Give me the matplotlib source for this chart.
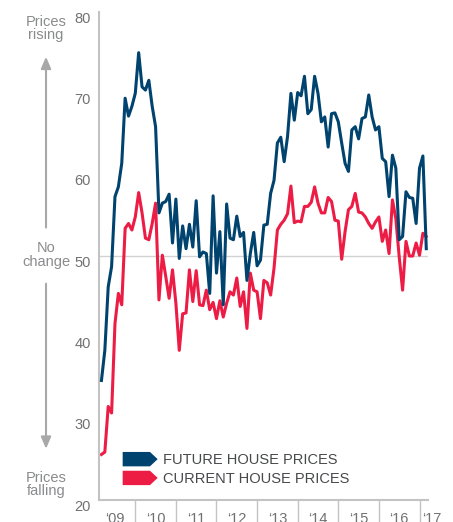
import matplotlib
matplotlib.use("Agg")
import matplotlib.pyplot as plt
import numpy as np
import pandas as pd
from matplotlib.patches import Patch, Polygon
from matplotlib.legend_handler import HandlerPatch
from matplotlib.transforms import ScaledTranslation

plt.rcParams['font.family'] = ['Liberation Sans', 'DejaVu Sans']

# monthly survey balances, Mar 2009 - Mar 2017
months = pd.date_range('2009-03-01', periods=97, freq='MS')

future_prices = [
    34.7, 38.4, 46.2, 48.7, 57.3, 58.5, 61.4, 69.4, 67.2, 68.4,
    70.0, 75.0, 70.8, 70.4, 71.6, 68.4, 65.9, 55.3, 56.5, 56.7,
    57.6, 51.6, 57.0, 49.7, 53.7, 50.9, 53.9, 51.1, 56.8, 49.9,
    50.5, 50.3, 45.4, 57.4, 47.9, 53.0, 44.0, 56.4, 52.2, 52.0,
    54.9, 52.4, 52.9, 47.0, 50.3, 52.9, 48.8, 49.5, 53.8, 53.9,
    57.7, 59.3, 63.9, 64.6, 61.6, 64.7, 70.0, 66.7, 70.1, 69.7,
    72.1, 67.5, 68.0, 72.1, 70.0, 66.5, 67.1, 63.4, 67.5, 67.6,
    66.5, 63.9, 61.4, 60.4, 65.5, 65.9, 64.4, 66.9, 67.1, 69.8,
    67.1, 65.5, 65.9, 62.0, 61.6, 57.3, 62.4, 60.8, 52.0, 52.4,
    57.9, 57.2, 57.1, 54.0, 60.8, 62.3, 50.9,
]

current_prices = [
    25.6, 25.9, 31.5, 30.7, 41.7, 45.4, 44.0, 53.4, 54.0, 53.2,
    54.8, 57.8, 55.3, 52.2, 52.0, 54.0, 56.5, 44.6, 50.1, 47.5,
    44.8, 48.3, 44.2, 38.4, 42.9, 43.0, 48.3, 44.4, 48.2, 44.0,
    43.9, 45.8, 43.4, 44.3, 42.3, 44.5, 42.5, 44.2, 45.6, 45.2,
    47.3, 43.8, 45.6, 41.1, 47.9, 45.8, 45.6, 42.3, 47.0, 46.7,
    45.2, 48.5, 53.2, 53.9, 54.4, 55.2, 58.6, 54.1, 54.3, 54.2,
    56.1, 56.1, 56.6, 58.5, 56.5, 55.3, 55.3, 57.2, 56.7, 54.4,
    54.3, 49.6, 53.0, 55.7, 56.1, 57.7, 55.4, 55.3, 54.8, 54.0,
    53.4, 54.2, 54.8, 51.8, 53.2, 50.3, 56.9, 54.6, 49.9, 45.8,
    51.8, 50.0, 50.0, 51.6, 50.1, 52.8, 52.4,
]

year_ticks = list(range(2010, 2018))
year_labels = ['\u201809', '\u201810', '\u201811', '\u201812', '\u201813',
               '\u201814', '\u201815', '\u201816', '\u201817']
year_label_pos = [2009.5, 2010.5, 2011.5, 2012.5, 2013.5, 2014.5, 2015.5, 2016.5, 2017.3]

BLUE = '#00436f'
RED = '#ec1c45'
AXIS = '#c3c3c3'
TXT = '#707173'

t = months.year + (months.month - 1) / 12.0


class HandlerArrow(HandlerPatch):
    def create_artists(self, legend, orig_handle, xdescent, ydescent,
                       width, height, fontsize, trans):
        x0, y0 = -xdescent, -ydescent
        pts = [(x0, y0), (x0 + 0.78 * width, y0), (x0 + width, y0 + height / 2),
               (x0 + 0.78 * width, y0 + height), (x0, y0 + height)]
        p = Polygon(pts, closed=True, facecolor=orig_handle.get_facecolor(),
                    edgecolor='none', transform=trans)
        return [p]


fig = plt.figure(figsize=(4.53, 5.22), dpi=100)
ax = fig.add_axes([0.2185, 0.0421, 0.7263, 0.9349])

ax.axhline(50, color='#d2d2d2', lw=1, zorder=0)
ax.plot(t, current_prices, color=RED, lw=2.2, zorder=2)
ax.plot(t, future_prices, color=BLUE, lw=2.2, zorder=3)

ax.set_xlim(2009.106, 2017.209)
ax.set_ylim(20, 80)

for s in ['top', 'right']:
    ax.spines[s].set_visible(False)
for s in ['left', 'bottom']:
    ax.spines[s].set_color(AXIS)
    ax.spines[s].set_linewidth(1.5)

ax.set_yticks(range(20, 81, 10))
ax.tick_params(axis='y', length=0, pad=6, labelsize=10.5, labelcolor=TXT)
shift = ScaledTranslation(0, -0.05, fig.dpi_scale_trans)
for lab in ax.get_yticklabels():
    lab.set_transform(lab.get_transform() + shift)

ax.set_xticks(year_ticks)
ax.set_xticklabels([])
ax.tick_params(axis='x', direction='out', length=16, width=1, color=AXIS)

lab_trans = ax.get_xaxis_transform() + ScaledTranslation(0, -0.12, fig.dpi_scale_trans)
for pos, lab in zip(year_label_pos, year_labels):
    ax.text(pos, 0, lab, transform=lab_trans, ha='center', va='top',
            fontsize=10.5, color=TXT, clip_on=False)

# side captions
side = ax.get_yaxis_transform()
ax.text(-0.161, 78.0, 'Prices\nrising', transform=side, ha='center', va='center',
        fontsize=10.5, color='#8a8b8d', linespacing=0.95)
ax.text(-0.161, 50.1, 'No\nchange', transform=side, ha='center', va='center',
        fontsize=10.5, color='#8a8b8d', linespacing=0.95)
ax.text(-0.161, 21.9, 'Prices\nfalling', transform=side, ha='center', va='center',
        fontsize=10.5, color='#8a8b8d', linespacing=0.95)

arrow_kw = dict(arrowstyle='-|>,head_length=0.7,head_width=0.3', color='#a8a8a8',
                lw=1.5, mutation_scale=10, shrinkA=0, shrinkB=0)
ax.annotate('', xy=(-0.161, 74.5), xytext=(-0.161, 53.5), xycoords=side,
            textcoords=side, arrowprops=arrow_kw, annotation_clip=False)
ax.annotate('', xy=(-0.161, 26.3), xytext=(-0.161, 46.6), xycoords=side,
            textcoords=side, arrowprops=arrow_kw, annotation_clip=False)

handles = [Patch(facecolor=BLUE), Patch(facecolor=RED)]
ax.legend(handles, ['FUTURE HOUSE PRICES', 'CURRENT HOUSE PRICES'],
          handler_map={Patch: HandlerArrow()},
          loc='lower left', bbox_to_anchor=(0.072, 0.029), frameon=False,
          borderpad=0, borderaxespad=0, handlelength=2.4, handleheight=1.14,
          handletextpad=0.36, labelspacing=0.25, fontsize=10.5,
          labelcolor='#48494b')

fig.savefig('out.png', dpi=100)
